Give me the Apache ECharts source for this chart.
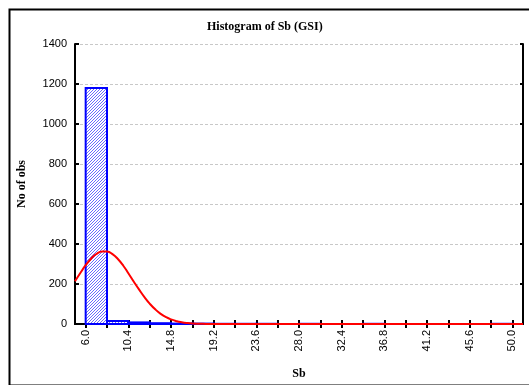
<!DOCTYPE html>
<html><head><meta charset="utf-8">
<script src="https://cdn.jsdelivr.net/npm/echarts@6/dist/echarts.min.js"></script>
<style>html,body{margin:0;padding:0;background:#fff}#c{width:529px;height:385px}</style>
</head><body><div id="c"></div>
<script>
// Histogram bins (Sb)
const binLo = [6.0, 8.2, 10.4, 12.6, 14.8, 17.0, 19.2, 21.4, 23.6, 25.8, 28.0, 30.2, 32.4, 34.6, 36.8, 39.0, 41.2, 43.4, 45.6, 47.8];
const binHi = [8.2, 10.4, 12.6, 14.8, 17.0, 19.2, 21.4, 23.6, 25.8, 28.0, 30.2, 32.4, 34.6, 36.8, 39.0, 41.2, 43.4, 45.6, 47.8, 50.0];
const counts = [1180, 15, 8, 4, 2, 2, 1, 1, 1, 0, 1, 0, 0, 1, 0, 0, 0, 0, 0, 1];
// Fitted normal curve
const curveX = [4.9, 5.5, 6.0, 6.6, 7.1, 7.7, 8.2, 8.8, 9.3, 9.9, 10.4, 11.0, 11.5, 12.1, 12.6, 13.2, 13.7, 14.3, 14.8, 15.4, 15.9, 16.5, 17.0, 18.1, 19.2, 25.0, 35.0, 45.0, 51.1];
const curveY = [214, 259, 294, 329, 350, 363, 362, 348, 326, 290, 254, 209, 173, 132, 102, 72, 52, 34, 23, 14, 9, 5, 3, 1, 0, 0, 0, 0, 0];
// Axis ticks and labels
const xTicks = [6.0, 8.2, 10.4, 12.6, 14.8, 17.0, 19.2, 21.4, 23.6, 25.8, 28.0, 30.2, 32.4, 34.6, 36.8, 39.0, 41.2, 43.4, 45.6, 47.8, 50.0];
const xLabels = [6.0, 10.4, 14.8, 19.2, 23.6, 28.0, 32.4, 36.8, 41.2, 45.6, 50.0];

const cv = document.createElement('canvas');
cv.width = 3; cv.height = 3;
const g = cv.getContext('2d');
g.fillStyle = '#ffffff'; g.fillRect(0, 0, 3, 3);
g.fillStyle = '#6a6aff';
for (let i = 0; i < 3; i++) g.fillRect(i, 2 - i, 1, 1);
const pattern = { image: cv, repeat: 'repeat' };

const chart = echarts.init(document.getElementById('c'), null, { renderer: 'canvas' });
const serif = 'Liberation Serif, Times New Roman, serif';
const sans = 'Liberation Sans, Arial, sans-serif';
chart.setOption({
  animation: false,
  backgroundColor: '#fff',
  title: { text: 'Histogram of Sb (GSI)', left: 202, top: 16,
    textStyle: { fontFamily: serif, fontWeight: 'bold', fontSize: 12, color: '#000' } },
  graphic: [{ type: 'rect', left: 7, top: 7, shape: { width: 540, height: 376 },
    style: { fill: 'none', stroke: '#000', lineWidth: 2 }, silent: true }],
  grid: { left: 75, right: 6, top: 44, bottom: 59 },
  xAxis: [{
    type: 'value', min: 4.9, max: 51.1, position: 'bottom',
    name: 'Sb', nameLocation: 'middle', nameGap: 44,
    nameTextStyle: { fontFamily: serif, fontWeight: 'bold', fontSize: 12, color: '#000' },
    axisLine: { show: true, lineStyle: { color: '#000', width: 2 } },
    axisTick: { show: true, inside: true, length: 4, customValues: xTicks, lineStyle: { color: '#000', width: 2 } },
    axisLabel: { customValues: xLabels, rotate: 90, margin: 6, fontFamily: sans, fontSize: 11, color: '#000',
      formatter: v => v.toFixed(1) },
    splitLine: { show: false }
  }, {
    type: 'value', min: 4.9, max: 51.1, position: 'top',
    axisLine: { show: true, lineStyle: { color: '#000', width: 2 } },
    axisTick: { show: true, inside: true, length: 4, customValues: xTicks, lineStyle: { color: '#000', width: 2 } },
    axisLabel: { show: false }, splitLine: { show: false }
  }],
  yAxis: [{
    type: 'value', min: 0, max: 1400, interval: 200, position: 'left',
    name: 'No of obs', nameLocation: 'middle', nameGap: 47,
    nameTextStyle: { fontFamily: serif, fontWeight: 'bold', fontSize: 12, color: '#000' },
    axisLine: { show: true, lineStyle: { color: '#000', width: 2 } },
    axisTick: { show: true, inside: true, length: 4, lineStyle: { color: '#000', width: 2 } },
    axisLabel: { margin: 8, fontFamily: sans, fontSize: 11, color: '#000', formatter: v => String(v) },
    splitLine: { show: true, lineStyle: { color: '#c8c8c8', type: [3, 2], width: 1 } }
  }, {
    type: 'value', min: 0, max: 1400, interval: 200, position: 'right',
    axisLine: { show: true, lineStyle: { color: '#000', width: 2 } },
    axisTick: { show: true, inside: true, length: 3, lineStyle: { color: '#000', width: 2 } },
    axisLabel: { show: false }, splitLine: { show: false }
  }],
  series: [{
    type: 'custom',
    data: binLo.map((lo, i) => [lo, binHi[i], counts[i]]),
    encode: { x: [0, 1], y: 2 },
    renderItem: function (params, api) {
      const p1 = api.coord([api.value(0), api.value(2)]);
      const p2 = api.coord([api.value(1), 0]);
      return { type: 'rect',
        shape: { x: p1[0], y: p1[1], width: p2[0] - p1[0], height: p2[1] - p1[1] },
        style: { fill: pattern, stroke: '#0000ff', lineWidth: 2 } };
    },
    z: 2
  }, {
    type: 'line', smooth: true, symbol: 'none',
    data: curveX.map((x, i) => [x, curveY[i]]),
    lineStyle: { color: '#ff0000', width: 2 },
    z: 3
  }]
});
</script></body></html>
